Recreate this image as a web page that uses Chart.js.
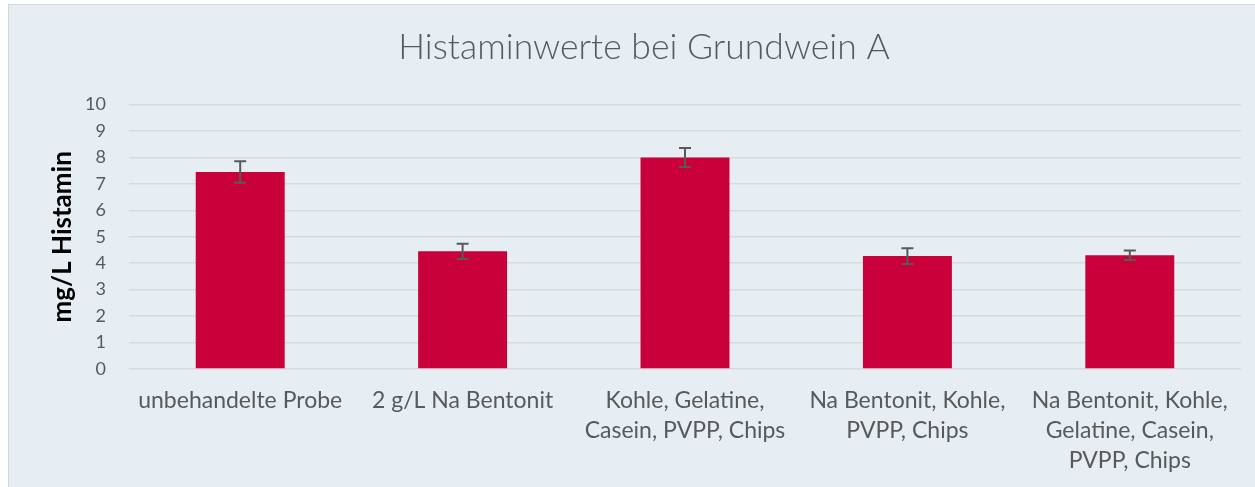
<!DOCTYPE html>
<html>
<head>
<meta charset="utf-8">
<script src="https://cdn.jsdelivr.net/npm/chart.js@4/dist/chart.umd.min.js"></script>
<style>
  html, body { margin: 0; padding: 0; background: #fff; }
  #box {
    position: absolute; left: 8px; top: 4px; width: 1247px; height: 483px;
    background: #e6eef4; border-left: 1px solid #d4d8dc; border-top: 1px solid #d4d8dc;
    box-sizing: border-box;
  }
  #chart-area { display: block; }
</style>
</head>
<body>
<div id="box"><canvas id="chart-area" width="1246" height="482"></canvas></div>
<script>
let categories = [
  ['unbehandelte Probe'],
  ['2 g/L Na Bentonit'],
  ['Kohle, Gelatine,', 'Casein, PVPP, Chips'],
  ['Na Bentonit, Kohle,', 'PVPP, Chips'],
  ['Na Bentonit, Kohle,', 'Gelatine, Casein,', 'PVPP, Chips']
];
let histamin = [7.45, 4.45, 8.0, 4.27, 4.3];
let errors = [0.41, 0.29, 0.36, 0.3, 0.18];
let yTicks = [0, 1, 2, 3, 4, 5, 6, 7, 8, 9, 10];

// error bars, drawn on top of the bars
const errorBars = {
  id: 'errorBars',
  afterDatasetsDraw(chart) {
    const ctx = chart.ctx;
    const y = chart.scales.y;
    const meta = chart.getDatasetMeta(0);
    ctx.save();
    ctx.strokeStyle = '#595959';
    ctx.lineWidth = 2;
    meta.data.forEach(function (bar, i) {
      const top = y.getPixelForValue(histamin[i] + errors[i]);
      const bot = y.getPixelForValue(histamin[i] - errors[i]);
      ctx.beginPath();
      ctx.moveTo(bar.x, top); ctx.lineTo(bar.x, bot);
      ctx.moveTo(bar.x - 6, top); ctx.lineTo(bar.x + 6, top);
      ctx.moveTo(bar.x - 6, bot); ctx.lineTo(bar.x + 6, bot);
      ctx.stroke();
    });
    ctx.restore();
  }
};

var ctx = document.getElementById('chart-area').getContext('2d');
var chart = new Chart(ctx, {
  type: 'bar',
  data: {
    labels: categories,
    datasets: [{
      data: histamin,
      backgroundColor: '#c9003a',
      categoryPercentage: 1,
      barPercentage: 0.4
    }]
  },
  options: {
    responsive: false,
    animation: false,
    layout: { padding: { left: 38, right: 14, top: 0, bottom: 12 } },
    plugins: {
      legend: { display: false },
      tooltip: { enabled: false },
      title: {
        display: true,
        text: 'Histaminwerte bei Grundwein A',
        color: '#595959',
        font: { family: 'Lato', size: 35.5, weight: '300' },
        padding: { top: 21, bottom: 36 }
      }
    },
    scales: {
      x: {
        afterFit: function (s) { s.height = 106; },
        grid: { display: false },
        border: { display: false },
        ticks: {
          color: '#595959',
          font: { family: 'Lato', size: 23, lineHeight: 1.3 },
          padding: 9,
          maxRotation: 0,
          autoSkip: false
        }
      },
      y: {
        min: 0,
        max: 10,
        afterFit: function (s) { s.width = 82; },
        afterBuildTicks: function (s) { s.ticks = yTicks.map(v => ({ value: v })); },
        grid: { color: '#d9d9d9', lineWidth: 1.5, drawTicks: false },
        border: { display: false },
        ticks: {
          color: '#595959',
          font: { family: 'Lato', size: 18 },
          padding: 23,
          autoSkip: false
        },
        title: {
          display: true,
          text: 'mg/L Histamin',
          color: '#000',
          font: { family: 'Lato', size: 26, weight: 'bold' },
          padding: 0
        }
      }
    }
  },
  plugins: [errorBars]
});
</script>
</body>
</html>
